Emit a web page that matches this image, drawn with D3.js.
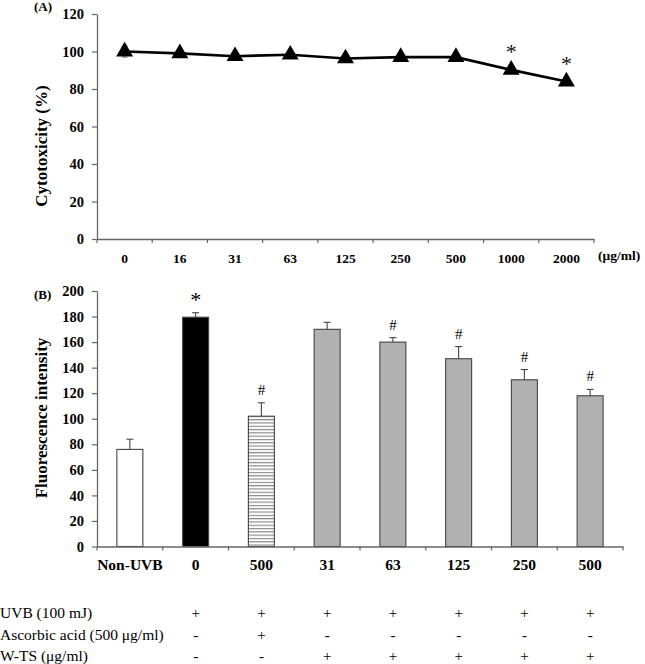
<!DOCTYPE html>
<html><head><meta charset="utf-8">
<script src="https://cdn.jsdelivr.net/npm/d3@7"></script>
<style>body{margin:0;background:#fff}svg{display:block}text{font-family:"Liberation Serif","Times New Roman",serif}</style>
</head><body>
<svg id="c" width="645" height="664"></svg>
<script>
// Panel A data
const concA = ["0","16","31","63","125","250","500","1000","2000"];
const cytoVals = [100, 99, 97.5, 98.3, 96.3, 97, 97, 90.2, 84];
const cytoErr = [3, 2, 1.5, 1.5, 1.5, 1.5, 1.5, 1.5, 1.5];
const cytoSig = ["","","","","","","","*","*"];
const ticksA = [0,20,40,60,80,100,120];
// Panel B data
const groupsB = ["Non-UVB","0","500","31","63","125","250","500"];
const fluorVals = [76, 179.5, 102, 170, 160, 147, 130.5, 118];
const fluorErr = [8, 3.5, 10.5, 5.5, 3.5, 9.5, 8, 5];
const fluorSig = ["","*","#","","#","#","#","#"];
const fillType = ["white","black","stripe","gray","gray","gray","gray","gray"];
const ticksB = [0,20,40,60,80,100,120,140,160,180,200];
// Treatment table
const rowLabels = ["UVB (100 mJ)","Ascorbic acid (500 μg/ml)","W-TS (μg/ml)"];
const uvbRow = ["","+","+","+","+","+","+","+"];
const ascRow = ["","-","+","-","-","-","-","-"];
const wtsRow = ["","-","-","+","+","+","+","+"];

const svg = d3.select("#c");
const axisColor = "#666";
const defs = svg.append("defs");
const pat = defs.append("pattern").attr("id","stripe").attr("patternUnits","userSpaceOnUse")
  .attr("width",8).attr("height",3.3);
pat.append("rect").attr("width",8).attr("height",3.3).attr("fill","#fff");
pat.append("line").attr("x1",0).attr("x2",8).attr("y1",0.6).attr("y2",0.6).attr("stroke","#777").attr("stroke-width",1);

function styleAxis(g, fs){
  g.selectAll("path.domain").attr("stroke",axisColor).attr("stroke-width",1.3);
  g.selectAll(".tick line").attr("stroke",axisColor).attr("stroke-width",1.2);
  g.selectAll(".tick text").attr("font-family","Liberation Serif").attr("font-weight","bold")
    .attr("font-size",fs).attr("fill","#000");
}

// ---------- Panel A ----------
const xA = d3.scaleBand().domain(concA).range([97,594]);
const yA = d3.scaleLinear().domain([0,120]).range([239,14]);

const gyA = svg.append("g").attr("transform","translate(97,0)")
  .call(d3.axisLeft(yA).tickValues(ticksA).tickSize(5).tickPadding(8).tickSizeOuter(0));
styleAxis(gyA, 14.5);
const gxA = svg.append("g").attr("transform","translate(0,239)")
  .call(d3.axisBottom(xA).tickSize(0).tickPadding(14).tickSizeOuter(0));
styleAxis(gxA, 13.5);
gxA.selectAll("line.bt").data(d3.range(concA.length+1)).enter().append("line").attr("class","bt")
  .attr("x1",i=>97+i*xA.step()).attr("x2",i=>97+i*xA.step()).attr("y1",0).attr("y2",4)
  .attr("stroke",axisColor).attr("stroke-width",1.2);

const cxA = d => xA(d)+xA.bandwidth()/2;
svg.append("g").selectAll("g").data(concA).enter().append("g").each(function(d,i){
  const g = d3.select(this), x = cxA(d);
  g.append("line").attr("x1",x).attr("x2",x).attr("y1",yA(cytoVals[i]-cytoErr[i])).attr("y2",yA(cytoVals[i]+cytoErr[i])).attr("stroke","#777").attr("stroke-width",1);
  [cytoVals[i]-cytoErr[i], cytoVals[i]+cytoErr[i]].forEach(v=>{
    g.append("line").attr("x1",x-3).attr("x2",x+3).attr("y1",yA(v)).attr("y2",yA(v)).attr("stroke","#777").attr("stroke-width",1);
  });
});
svg.append("path").datum(concA).attr("fill","none").attr("stroke","#000").attr("stroke-width",2.6)
  .attr("d", d3.line().x(d=>cxA(d)).y((d,i)=>yA(cytoVals[i])));
svg.append("g").selectAll("path").data(concA).enter().append("path")
  .attr("transform",(d,i)=>`translate(${cxA(d)},${yA(cytoVals[i])})`)
  .attr("d", d3.symbol().type(d3.symbolTriangle).size(125)).attr("fill","#000");
svg.append("g").selectAll("text").data(concA).enter().append("text")
  .attr("x",d=>cxA(d)).attr("y",(d,i)=>yA(cytoVals[i])-11)
  .attr("text-anchor","middle").attr("font-size",22).attr("fill","#111").text((d,i)=>cytoSig[i]);

svg.append("text").attr("x",598).attr("y",260).attr("font-weight","bold").attr("font-size",13.5).text("(μg/ml)");
svg.append("text").attr("x",34).attr("y",11).attr("font-weight","bold").attr("font-size",13).text("(A)");
svg.append("text").attr("transform","translate(47,146) rotate(-90)").attr("text-anchor","middle")
  .attr("font-weight","bold").attr("font-size",17).text("Cytotoxicity (%)");

// ---------- Panel B ----------
const bandB = d3.scaleBand().domain(d3.range(groupsB.length)).range([97,623]);
const yB = d3.scaleLinear().domain([0,200]).range([546.5,291]);

const gyB = svg.append("g").attr("transform","translate(97,0)")
  .call(d3.axisLeft(yB).tickValues(ticksB).tickSize(5).tickPadding(8).tickSizeOuter(0));
styleAxis(gyB, 14.5);

const fills = {white:"#fff", black:"#000", stripe:"url(#stripe)", gray:"#b1b1b1"};
const cxB = i => bandB(i)+bandB.bandwidth()/2;
const bw = 26;
svg.append("g").selectAll("rect").data(fluorVals).enter().append("rect")
  .attr("x",(d,i)=>cxB(i)-bw/2).attr("width",bw)
  .attr("y",d=>yB(d)).attr("height",d=>yB(0)-yB(d))
  .attr("fill",(d,i)=>fills[fillType[i]]).attr("stroke","#444").attr("stroke-width",1.1);
svg.append("g").selectAll("g").data(fluorVals).enter().append("g").each(function(d,i){
  const g = d3.select(this), x = cxB(i);
  g.append("line").attr("x1",x).attr("x2",x).attr("y1",yB(d)).attr("y2",yB(d+fluorErr[i])).attr("stroke","#444").attr("stroke-width",1.1);
  g.append("line").attr("x1",x-3.5).attr("x2",x+3.5).attr("y1",yB(d+fluorErr[i])).attr("y2",yB(d+fluorErr[i])).attr("stroke","#444").attr("stroke-width",1.1);
});
svg.append("g").selectAll("text").data(fluorVals).enter().append("text")
  .attr("x",(d,i)=>cxB(i)).attr("y",(d,i)=>yB(d+fluorErr[i])-(fluorSig[i]==="*"?6:8))
  .attr("text-anchor","middle").attr("font-size",(d,i)=>fluorSig[i]==="*"?22:15)
  .text((d,i)=>fluorSig[i]);

const gxB = svg.append("g").attr("transform","translate(0,546.5)")
  .call(d3.axisBottom(bandB).tickSize(0).tickPadding(12).tickSizeOuter(0).tickFormat(i=>groupsB[i]));
styleAxis(gxB, 15.5);
gxB.selectAll("line.bt").data(d3.range(groupsB.length+1)).enter().append("line").attr("class","bt")
  .attr("x1",i=>97+i*bandB.step()).attr("x2",i=>97+i*bandB.step()).attr("y1",0).attr("y2",4)
  .attr("stroke",axisColor).attr("stroke-width",1.2);

svg.append("text").attr("x",34).attr("y",299).attr("font-weight","bold").attr("font-size",13).text("(B)");
svg.append("text").attr("transform","translate(47,418) rotate(-90)").attr("text-anchor","middle")
  .attr("font-weight","bold").attr("font-size",17).text("Fluorescence intensity");

// ---------- treatment table ----------
const rows = [uvbRow, ascRow, wtsRow];
const rowY = [618, 639.5, 661];
rowLabels.forEach((lab,r)=>{
  svg.append("text").attr("x",0).attr("y",rowY[r]).attr("font-size",15.5).attr("fill","#000").text(lab);
  svg.append("g").selectAll("text").data(rows[r]).enter().append("text")
    .attr("x",(d,i)=>cxB(i)).attr("y",rowY[r]).attr("text-anchor","middle")
    .attr("font-size",15).attr("fill","#000").text(d=>d);
});
</script>
</body></html>
